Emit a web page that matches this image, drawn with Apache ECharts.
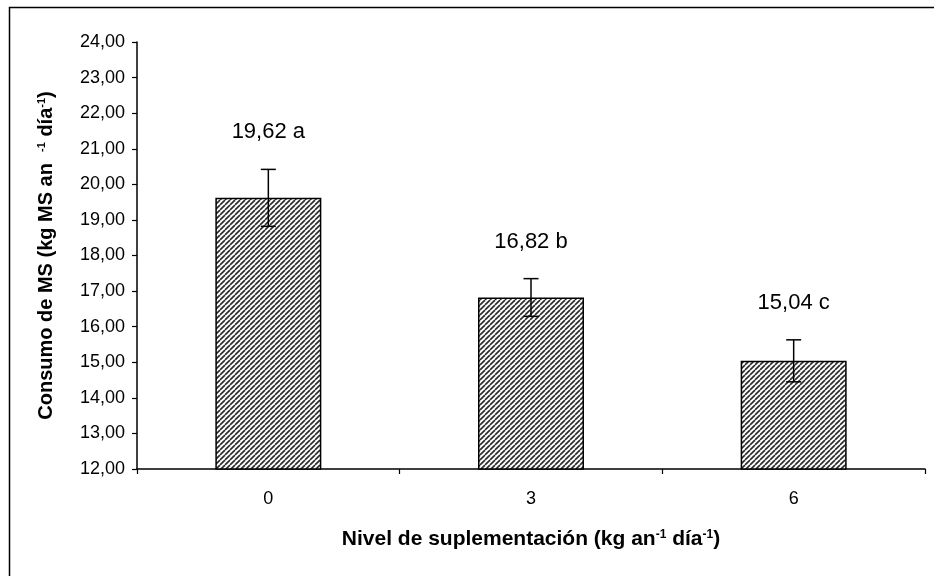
<!DOCTYPE html>
<html>
<head>
<meta charset="utf-8">
<script src="https://cdn.jsdelivr.net/npm/echarts@6/dist/echarts.min.js"></script>
<style>
html,body{margin:0;padding:0;background:#fff;}
#chart{width:934px;height:576px;}
</style>
</head>
<body>
<div id="chart"></div>
<script>
// Data
const categories = ['0', '3', '6'];
const means = [19.62, 16.82, 15.04];
const errors = [0.80, 0.53, 0.59];
const letters = ['a', 'b', 'c'];
const yMin = 12, yMax = 24, yInterval = 1;

function fmt(v) { return v.toFixed(2).replace('.', ','); }

// hatch pattern
const tile = document.createElement('canvas');
tile.width = 5; tile.height = 5;
const tctx = tile.getContext('2d');
tctx.fillStyle = '#fff';
tctx.fillRect(0, 0, 5, 5);
tctx.strokeStyle = '#2a2a2a';
tctx.lineWidth = 1.6;
for (const o of [-5, 0, 5]) {
  tctx.beginPath();
  tctx.moveTo(o, 5);
  tctx.lineTo(o + 5, 0);
  tctx.stroke();
}

const errData = categories.map((c, i) => [i, means[i] - errors[i], means[i] + errors[i], means[i]]);

const chart = echarts.init(document.getElementById('chart'), null, {renderer: 'canvas'});
const font = "'Liberation Sans', Arial, sans-serif";

chart.setOption({
  animation: false,
  backgroundColor: '#fff',
  textStyle: {fontFamily: font},
  graphic: [{
    type: 'rect',
    shape: {x: 9.5, y: 7.5, width: 1200, height: 1200},
    style: {fill: 'none', stroke: '#000', lineWidth: 1.5},
    silent: true,
    z: -10
  }],
  grid: {left: 137, right: 9, top: 42, bottom: 107, containLabel: false},
  xAxis: {
    type: 'category',
    data: categories,
    boundaryGap: true,
    axisLine: {lineStyle: {color: '#000', width: 1.5}},
    axisTick: {show: true, inside: false, length: 5, alignWithLabel: false, lineStyle: {color: '#000', width: 1.2}},
    axisLabel: {color: '#000', fontSize: 18, margin: 21, fontFamily: font},
    splitLine: {show: false},
    name: '{b|Nivel de suplementación (kg an}{s|-1}{b| día}{s|-1}{b|)}',
    nameLocation: 'middle',
    nameGap: 60,
    nameTextStyle: {
      rich: {
        b: {fontSize: 21, fontWeight: 'bold', color: '#000', fontFamily: font},
        s: {fontSize: 12, fontWeight: 'bold', color: '#000', fontFamily: font, verticalAlign: 'top', padding: [0, 0, 9, 0]}
      }
    }
  },
  yAxis: {
    type: 'value',
    min: yMin, max: yMax, interval: yInterval,
    axisLine: {show: true, lineStyle: {color: '#000', width: 1.5}},
    axisTick: {show: true, inside: false, length: 5, lineStyle: {color: '#000', width: 1.2}},
    axisLabel: {color: '#000', fontSize: 18, margin: 12, formatter: fmt, fontFamily: font},
    splitLine: {show: false},
    name: '{b|Consumo de MS (kg MS an  }{s|-1}{b| día}{s|-1}{b|)}',
    nameLocation: 'middle',
    nameRotate: 90,
    nameGap: 81,
    nameTextStyle: {
      rich: {
        b: {fontSize: 20, fontWeight: 'bold', color: '#000', fontFamily: font},
        s: {fontSize: 11, fontWeight: 'bold', color: '#000', fontFamily: font, verticalAlign: 'top', padding: [0, 0, 9, 0]}
      }
    }
  },
  series: [
    {
      type: 'bar',
      data: means,
      barWidth: 106,
      itemStyle: {
        color: {image: tile, repeat: 'repeat'},
        borderColor: '#000',
        borderWidth: 1.5
      },
      z: 2
    },
    {
      type: 'custom',
      data: errData,
      z: 5,
      renderItem: function (params, api) {
        const x = api.value(0);
        const lo = api.coord([x, api.value(1)]);
        const hi = api.coord([x, api.value(2)]);
        const cap = 7.5;
        const style = {stroke: '#000', lineWidth: 1.5, fill: null};
        const i = params.dataIndex;
        return {
          type: 'group',
          children: [
            {type: 'line', shape: {x1: hi[0], y1: hi[1], x2: lo[0], y2: lo[1]}, style: style},
            {type: 'line', shape: {x1: hi[0] - cap, y1: hi[1], x2: hi[0] + cap, y2: hi[1]}, style: style},
            {type: 'line', shape: {x1: lo[0] - cap, y1: lo[1], x2: lo[0] + cap, y2: lo[1]}, style: style},
            {type: 'text', x: hi[0], y: hi[1] - 37,
              style: {text: fmt(means[i]) + ' ' + letters[i], fill: '#000', fontSize: 22, fontFamily: font, align: 'center', verticalAlign: 'middle'}}
          ]
        };
      }
    }
  ]
});
</script>
</body>
</html>
